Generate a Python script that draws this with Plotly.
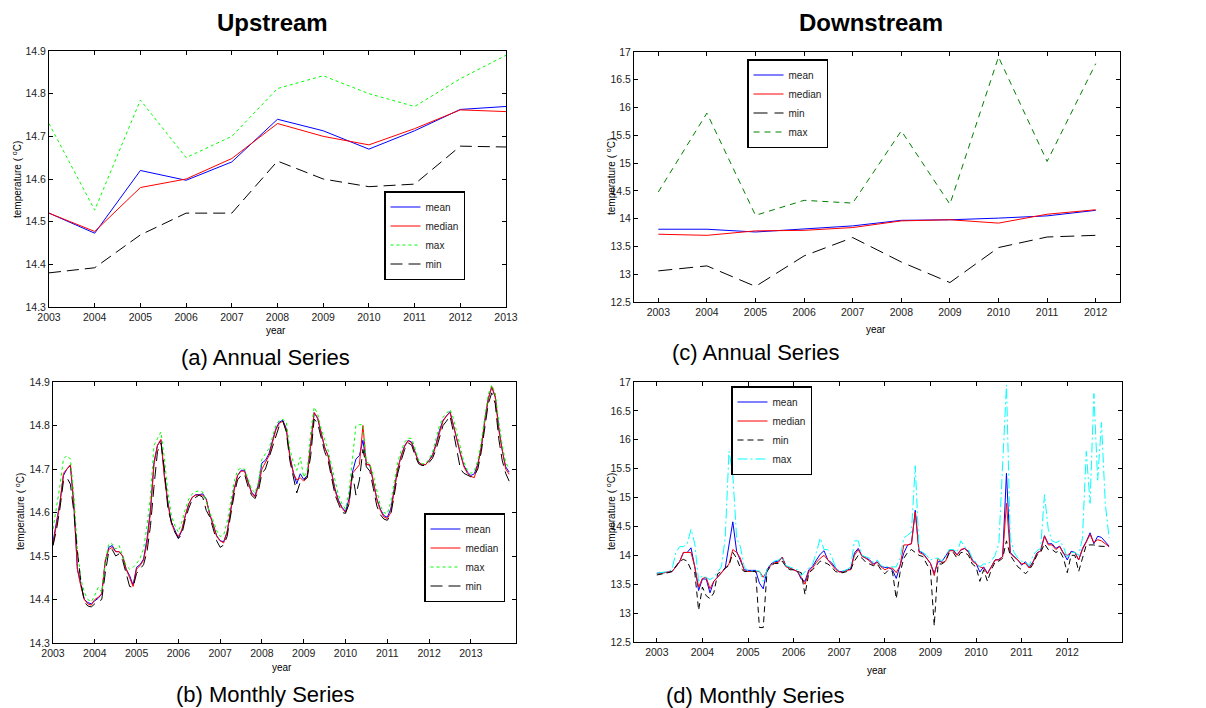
import plotly.graph_objects as go

# ---------------- DATA ----------------
years_up = [2003, 2004, 2005, 2006, 2007, 2008, 2009, 2010, 2011, 2012, 2013]
up_ann_mean = [14.52, 14.473, 14.62, 14.597, 14.64, 14.74, 14.713, 14.67, 14.713, 14.763, 14.77]
up_ann_median = [14.52, 14.477, 14.58, 14.60, 14.648, 14.73, 14.70, 14.68, 14.718, 14.762, 14.758]
up_ann_max = [14.73, 14.527, 14.785, 14.65, 14.70, 14.812, 14.842, 14.80, 14.77, 14.835, 14.89]
up_ann_min = [14.38, 14.392, 14.469, 14.52, 14.52, 14.642, 14.60, 14.582, 14.588, 14.677, 14.675]

years_down = [2003, 2004, 2005, 2006, 2007, 2008, 2009, 2010, 2011, 2012]
dn_ann_mean = [13.81, 13.81, 13.76, 13.82, 13.87, 13.97, 13.98, 14.01, 14.05, 14.15]
dn_ann_median = [13.72, 13.70, 13.78, 13.79, 13.84, 13.96, 13.98, 13.92, 14.08, 14.16]
dn_ann_min = [13.06, 13.15, 12.78, 13.33, 13.66, 13.22, 12.85, 13.48, 13.67, 13.70]
dn_ann_max = [14.48, 15.90, 14.06, 14.33, 14.28, 15.58, 14.26, 16.91, 15.03, 16.79]

up_mon_mean = [
    14.532, 14.578, 14.624, 14.685, 14.70, 14.708, 14.616, 14.47, 14.432, 14.40, 14.393, 14.39,
    14.397, 14.403, 14.413, 14.486, 14.52, 14.524, 14.51, 14.51, 14.50, 14.47, 14.455, 14.433,
    14.474, 14.48, 14.493, 14.54, 14.608, 14.716, 14.754, 14.766, 14.685, 14.624, 14.578, 14.558,
    14.541, 14.558, 14.593, 14.62, 14.635, 14.641, 14.641, 14.643, 14.631, 14.597, 14.574, 14.547,
    14.535, 14.533, 14.555, 14.608, 14.654, 14.685, 14.697, 14.697, 14.67, 14.647, 14.638, 14.665,
    14.714, 14.72, 14.735, 14.762, 14.793, 14.808, 14.812, 14.793, 14.731, 14.693, 14.666, 14.689,
    14.676, 14.685, 14.762, 14.829, 14.816, 14.781, 14.75, 14.731, 14.693, 14.654, 14.628, 14.612,
    14.602, 14.631, 14.693, 14.723, 14.731, 14.766, 14.712, 14.708, 14.67, 14.631, 14.608, 14.593,
    14.589, 14.608, 14.654, 14.70, 14.731, 14.754, 14.766, 14.762, 14.739, 14.716, 14.71, 14.71,
    14.72, 14.733, 14.758, 14.789, 14.812, 14.823, 14.832, 14.80, 14.766, 14.735, 14.708, 14.693,
    14.685, 14.689, 14.712, 14.75, 14.812, 14.862, 14.888, 14.866, 14.797, 14.743, 14.705, 14.693,
]
up_mon_median = [
    14.525, 14.57, 14.62, 14.69, 14.70, 14.71, 14.62, 14.47, 14.43, 14.40, 14.39, 14.387,
    14.40, 14.405, 14.413, 14.49, 14.515, 14.52, 14.51, 14.51, 14.50, 14.47, 14.45, 14.43,
    14.47, 14.478, 14.49, 14.53, 14.60, 14.71, 14.755, 14.768, 14.68, 14.62, 14.575, 14.555,
    14.545, 14.56, 14.593, 14.62, 14.635, 14.64, 14.64, 14.64, 14.63, 14.595, 14.572, 14.545,
    14.535, 14.53, 14.555, 14.605, 14.65, 14.685, 14.695, 14.695, 14.668, 14.645, 14.636, 14.66,
    14.70, 14.715, 14.73, 14.76, 14.79, 14.805, 14.81, 14.79, 14.73, 14.69, 14.675, 14.68,
    14.672, 14.68, 14.76, 14.83, 14.818, 14.782, 14.75, 14.73, 14.69, 14.65, 14.625, 14.61,
    14.60, 14.62, 14.69, 14.70, 14.71, 14.80, 14.71, 14.71, 14.67, 14.63, 14.605, 14.59,
    14.586, 14.60, 14.65, 14.70, 14.73, 14.752, 14.765, 14.76, 14.737, 14.715, 14.71, 14.71,
    14.72, 14.73, 14.755, 14.785, 14.81, 14.822, 14.83, 14.80, 14.765, 14.735, 14.705, 14.69,
    14.683, 14.68, 14.71, 14.75, 14.81, 14.86, 14.89, 14.865, 14.79, 14.74, 14.70, 14.688,
]
up_mon_max = [
    14.562, 14.608, 14.662, 14.723, 14.731, 14.723, 14.639, 14.516, 14.447, 14.417, 14.40, 14.395,
    14.409, 14.428, 14.417, 14.486, 14.528, 14.528, 14.516, 14.524, 14.50, 14.478, 14.47, 14.474,
    14.482, 14.495, 14.516, 14.57, 14.639, 14.754, 14.77, 14.785, 14.723, 14.647, 14.593, 14.57,
    14.555, 14.578, 14.608, 14.631, 14.643, 14.648, 14.65, 14.647, 14.624, 14.60, 14.582, 14.558,
    14.545, 14.548, 14.578, 14.624, 14.67, 14.697, 14.702, 14.70, 14.677, 14.654, 14.645, 14.67,
    14.723, 14.735, 14.747, 14.773, 14.80, 14.812, 14.814, 14.808, 14.747, 14.716, 14.697, 14.727,
    14.681, 14.697, 14.785, 14.842, 14.827, 14.793, 14.766, 14.743, 14.708, 14.67, 14.639, 14.62,
    14.608, 14.647, 14.723, 14.80, 14.802, 14.802, 14.716, 14.712, 14.685, 14.647, 14.616, 14.60,
    14.597, 14.624, 14.67, 14.716, 14.743, 14.762, 14.771, 14.77, 14.747, 14.72, 14.712, 14.712,
    14.723, 14.739, 14.77, 14.80, 14.819, 14.829, 14.837, 14.816, 14.781, 14.747, 14.716, 14.697,
    14.69, 14.695, 14.72, 14.765, 14.825, 14.872, 14.893, 14.875, 14.81, 14.755, 14.715, 14.70,
]
up_mon_min = [
    14.524, 14.56, 14.61, 14.672, 14.68, 14.665, 14.60, 14.51, 14.44, 14.395, 14.385, 14.383,
    14.39, 14.395, 14.40, 14.46, 14.51, 14.515, 14.50, 14.505, 14.49, 14.46, 14.43, 14.428,
    14.46, 14.47, 14.48, 14.51, 14.57, 14.66, 14.74, 14.76, 14.70, 14.608, 14.578, 14.555,
    14.54, 14.55, 14.585, 14.61, 14.63, 14.635, 14.64, 14.635, 14.605, 14.59, 14.56, 14.535,
    14.52, 14.525, 14.545, 14.59, 14.64, 14.675, 14.685, 14.688, 14.66, 14.64, 14.632, 14.65,
    14.69, 14.70, 14.725, 14.75, 14.78, 14.80, 14.81, 14.785, 14.72, 14.68, 14.645, 14.67,
    14.675, 14.68, 14.73, 14.815, 14.805, 14.77, 14.74, 14.72, 14.68, 14.64, 14.62, 14.60,
    14.598, 14.62, 14.69, 14.64, 14.675, 14.745, 14.705, 14.695, 14.655, 14.615, 14.595, 14.585,
    14.582, 14.595, 14.64, 14.69, 14.72, 14.745, 14.76, 14.755, 14.73, 14.712, 14.708, 14.708,
    14.715, 14.725, 14.745, 14.775, 14.80, 14.81, 14.822, 14.785, 14.74, 14.70, 14.69, 14.685,
    14.682, 14.685, 14.70, 14.74, 14.80, 14.85, 14.875, 14.85, 14.77, 14.72, 14.69, 14.672,
]

dn_mon_mean = [
    13.69, 13.69, 13.70, 13.71, 13.72, 13.80, 13.89, 14.05, 14.05, 14.13, 13.80, 13.39,
    13.59, 13.59, 13.35, 13.55, 13.62, 13.70, 13.78, 14.21, 14.58, 14.07, 13.92, 13.75,
    13.74, 13.74, 13.74, 13.52, 13.42, 13.75, 13.85, 13.89, 13.90, 13.97, 13.81, 13.78,
    13.75, 13.72, 13.59, 13.55, 13.75, 13.81, 13.92, 14.02, 14.08, 13.92, 13.87, 13.78,
    13.72, 13.72, 13.75, 13.76, 14.04, 14.12, 13.99, 13.95, 13.92, 13.85, 13.89, 13.81,
    13.79, 13.79, 13.75, 13.60, 13.81, 14.04, 14.18, 14.20, 14.78, 14.07, 14.04, 13.95,
    13.86, 13.69, 13.89, 13.89, 13.98, 14.09, 14.09, 14.01, 14.09, 14.12, 14.07, 13.92,
    13.86, 13.71, 13.80, 13.69, 13.80, 13.92, 13.93, 13.98, 15.42, 14.05, 13.98, 13.92,
    13.83, 13.89, 13.79, 13.89, 14.04, 14.08, 14.34, 14.20, 14.20, 14.12, 14.16, 14.04,
    13.92, 14.07, 14.05, 13.92, 14.12, 14.24, 14.39, 14.20, 14.33, 14.31, 14.24, 14.16,
]
dn_mon_median = [
    13.68, 13.69, 13.70, 13.71, 13.72, 13.80, 13.89, 14.05, 14.05, 14.05, 13.80, 13.45,
    13.60, 13.62, 13.42, 13.55, 13.62, 13.70, 13.78, 13.85, 14.10, 14.05, 13.95, 13.73,
    13.72, 13.72, 13.72, 13.72, 13.62, 13.72, 13.83, 13.87, 13.88, 13.97, 13.80, 13.78,
    13.75, 13.72, 13.62, 13.50, 13.72, 13.78, 13.88, 13.95, 14.00, 13.92, 13.86, 13.76,
    13.71, 13.71, 13.74, 13.75, 14.00, 14.10, 13.98, 13.95, 13.90, 13.83, 13.88, 13.80,
    13.75, 13.78, 13.78, 13.70, 13.82, 14.18, 14.18, 14.20, 14.75, 14.05, 14.02, 13.95,
    13.86, 13.65, 13.95, 13.87, 13.90, 14.08, 14.08, 14.00, 14.10, 14.12, 14.05, 13.90,
    13.85, 13.80, 13.78, 13.68, 13.80, 13.92, 13.92, 13.98, 14.90, 14.03, 13.97, 13.92,
    13.85, 13.86, 13.78, 13.88, 14.03, 14.08, 14.33, 14.18, 14.18, 14.10, 14.15, 14.03,
    14.00, 14.05, 14.05, 13.92, 14.10, 14.22, 14.36, 14.22, 14.27, 14.25, 14.20, 14.15,
]
dn_mon_min = [
    13.66, 13.67, 13.69, 13.70, 13.72, 13.80, 13.90, 13.93, 13.90, 13.75, 13.70, 13.05,
    13.45, 13.30, 13.25, 13.35, 13.68, 13.72, 13.78, 13.82, 14.05, 13.95, 13.78, 13.72,
    13.72, 13.72, 13.72, 12.75, 12.75, 13.72, 13.82, 13.86, 13.86, 13.90, 13.80, 13.75,
    13.75, 13.72, 13.70, 13.32, 13.70, 13.75, 13.82, 13.90, 13.88, 13.85, 13.80, 13.72,
    13.70, 13.70, 13.72, 13.75, 13.90, 14.00, 13.95, 13.88, 13.85, 13.82, 13.85, 13.75,
    13.68, 13.75, 13.72, 13.25, 13.70, 13.95, 14.05, 14.10, 14.05, 14.00, 13.98, 13.85,
    13.75, 12.78, 13.85, 13.85, 13.90, 14.05, 14.05, 13.95, 14.05, 14.05, 14.00, 13.85,
    13.80, 13.55, 13.75, 13.55, 13.75, 13.88, 13.90, 13.95, 14.25, 14.00, 13.90, 13.80,
    13.75, 13.68, 13.75, 13.85, 14.00, 14.05, 14.20, 14.10, 14.10, 14.05, 14.08, 13.95,
    13.70, 14.00, 14.00, 13.72, 13.95, 14.18, 14.18, 14.18, 14.16, 14.16, 14.15, 14.15,
]
dn_mon_max = [
    13.69, 13.70, 13.71, 13.72, 13.75, 14.05, 14.15, 14.15, 14.20, 14.45, 14.20, 13.55,
    13.65, 13.62, 13.58, 13.62, 13.72, 13.80, 14.30, 15.80, 15.40, 14.30, 14.15, 13.80,
    13.73, 13.73, 13.73, 13.73, 13.55, 13.75, 13.85, 13.90, 13.92, 13.97, 13.82, 13.80,
    13.77, 13.75, 13.65, 13.72, 13.78, 13.85, 14.05, 14.30, 14.10, 14.10, 13.98, 13.80,
    13.73, 13.73, 13.75, 13.80, 14.25, 14.25, 14.00, 13.97, 13.95, 13.88, 13.92, 13.82,
    13.80, 13.80, 13.80, 13.80, 13.95, 14.30, 14.35, 14.40, 15.55, 14.10, 14.05, 14.00,
    13.92, 13.95, 13.95, 13.90, 14.00, 14.10, 14.10, 14.05, 14.25, 14.15, 14.10, 13.95,
    13.88, 13.80, 13.85, 13.85, 13.90, 14.00, 14.20, 15.50, 16.95, 14.30, 14.05, 13.95,
    13.90, 13.88, 13.82, 14.00, 14.08, 14.12, 15.05, 14.45, 14.25, 14.22, 14.25, 14.15,
    13.95, 14.05, 14.05, 14.00, 14.30, 15.80, 14.90, 16.80, 15.30, 16.30, 14.90, 14.30,
]

months_up = [2003 + i / 12 for i in range(len(up_mon_mean))]
months_dn = [2003 + i / 12 for i in range(len(dn_mon_mean))]

W, H = 1206, 708
FONT = "Arial, 'Liberation Sans', sans-serif"

def px_x(p):
    return p / W

def px_y(p):
    return 1 - p / H

fig = go.Figure()

def add(x, y, name, color, dash, xa, ya, leg):
    fig.add_trace(go.Scatter(
        x=x, y=y, name=name, mode="lines",
        line=dict(color=color, width=1, dash=dash),
        xaxis=xa, yaxis=ya, legend=leg))

# (a) Upstream annual
add(years_up, up_ann_mean, "mean", "#0000FF", "solid", "x", "y", "legend")
add(years_up, up_ann_median, "median", "#FF0000", "solid", "x", "y", "legend")
add(years_up, up_ann_max, "max", "#00FF00", "dot", "x", "y", "legend")
add(years_up, up_ann_min, "min", "#000000", "12px,6px", "x", "y", "legend")

# (c) Downstream annual
add(years_down, dn_ann_mean, "mean", "#0000FF", "solid", "x2", "y2", "legend2")
add(years_down, dn_ann_median, "median", "#FF0000", "solid", "x2", "y2", "legend2")
add(years_down, dn_ann_min, "min", "#000000", "14px,7px", "x2", "y2", "legend2")
add(years_down, dn_ann_max, "max", "#008000", "6px,5px", "x2", "y2", "legend2")

# (b) Upstream monthly
add(months_up, up_mon_mean, "mean", "#0000FF", "solid", "x3", "y3", "legend3")
add(months_up, up_mon_median, "median", "#FF0000", "solid", "x3", "y3", "legend3")
add(months_up, up_mon_max, "max", "#00FF00", "dot", "x3", "y3", "legend3")
add(months_up, up_mon_min, "min", "#000000", "12px,6px", "x3", "y3", "legend3")

# (d) Downstream monthly
add(months_dn, dn_mon_mean, "mean", "#0000FF", "solid", "x4", "y4", "legend4")
add(months_dn, dn_mon_median, "median", "#FF0000", "solid", "x4", "y4", "legend4")
add(months_dn, dn_mon_min, "min", "#000000", "6px,4px", "x4", "y4", "legend4")
add(months_dn, dn_mon_max, "max", "#00FFFF", "10px,3px,2px,3px", "x4", "y4", "legend4")

def xax(l, r, rng, tickvals, anchor):
    return dict(domain=[px_x(l), px_x(r)], range=rng, tickvals=tickvals,
                ticktext=[str(v) for v in tickvals], anchor=anchor, automargin=False,
                showline=True, linecolor="black", linewidth=1, mirror="ticks",
                ticks="inside", ticklen=4, tickcolor="black", showgrid=False,
                zeroline=False, tickfont=dict(family=FONT, size=10.5, color="#222"))

def yax(t, b, rng, tickvals, ticktext, anchor):
    return dict(domain=[px_y(b), px_y(t)], range=rng, tickvals=tickvals, ticktext=ticktext,
                anchor=anchor, automargin=False, showline=True, linecolor="black",
                linewidth=1, mirror="ticks", ticks="inside", ticklen=4, tickcolor="black",
                showgrid=False, zeroline=False,
                tickfont=dict(family=FONT, size=10.5, color="#222"))

up_yt = [14.3, 14.4, 14.5, 14.6, 14.7, 14.8, 14.9]
up_ytt = ["14.3", "14.4", "14.5", "14.6", "14.7", "14.8", "14.9"]
dn_yt = [12.5, 13, 13.5, 14, 14.5, 15, 15.5, 16, 16.5, 17]
dn_ytt = ["12.5", "13", "13.5", "14", "14.5", "15", "15.5", "16", "16.5", "17"]

fig.update_layout(
    width=W, height=H, margin=dict(l=0, r=0, t=0, b=0, autoexpand=False),
    paper_bgcolor="white", plot_bgcolor="white",
    font=dict(family=FONT, color="black"),
    xaxis=xax(49, 506, [2003, 2013], years_up, "y"),
    yaxis=yax(51, 307, [14.3, 14.9], up_yt, up_ytt, "x"),
    xaxis2=xax(634, 1120, [2002.5, 2012.5], years_down, "y2"),
    yaxis2=yax(52, 302, [12.5, 17], dn_yt, dn_ytt, "x2"),
    xaxis3=xax(53, 516, [2003, 2014.08], years_up, "y3"),
    yaxis3=yax(382, 643, [14.3, 14.9], up_yt, up_ytt, "x3"),
    xaxis4=xax(634, 1122, [2002.5, 2013.2], years_down, "y4"),
    yaxis4=yax(382, 642, [12.5, 17], dn_yt, dn_ytt, "x4"),
)

def leg(l, t):
    return dict(x=px_x(l), y=px_y(t), xanchor="left", yanchor="top",
                bgcolor="white", bordercolor="black", borderwidth=1.5,
                font=dict(family=FONT, size=10, color="#222"),
                itemwidth=30, tracegroupgap=0)

fig.update_layout(legend=leg(384, 191), legend2=leg(747, 59),
                  legend3=leg(424, 513), legend4=leg(731, 386))

ann = []
def text(x, y, s, size, angle=0):
    ann.append(dict(x=px_x(x), y=px_y(y), xref="paper", yref="paper", text=s,
                    showarrow=False, textangle=angle, xanchor="center", yanchor="middle",
                    font=dict(family=FONT, size=size, color="black")))

text(272, 23, "<b>Upstream</b>", 24)
text(871, 23, "<b>Downstream</b>", 24)
text(265, 357, "(a) Annual Series", 22)
text(265, 694, "(b) Monthly Series", 22)
text(756, 353, "(c) Annual Series", 22)
text(755, 695, "(d) Monthly Series", 22)
text(276, 330, "year", 10)
text(282, 667, "year", 10)
text(876, 329, "year", 10)
text(877, 670, "year", 10)
ytitle = "temperature ( <sup>o</sup>C)"
text(17, 180, ytitle, 10, angle=-90)
text(20, 512, ytitle, 10, angle=-90)
text(611, 177, ytitle, 10, angle=-90)
text(611, 512, ytitle, 10, angle=-90)
fig.update_layout(annotations=ann)

fig.write_html("out.html", config={"displayModeBar": False},
               post_script="document.body.style.margin='0';document.body.style.overflow='hidden';")
